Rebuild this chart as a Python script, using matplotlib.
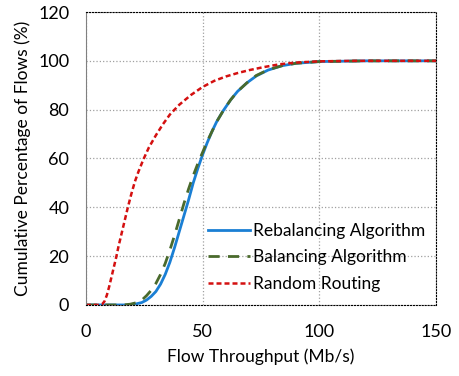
import matplotlib.pyplot as plt

rebal_x = [0, 18, 21, 24, 26, 28, 30, 32, 34, 36, 38, 40, 42, 44, 46, 48, 50, 52, 54, 56,
           58.8, 62, 65, 69, 73, 78, 84, 90, 100, 120, 150]
rebal_y = [0, 0, 0.3, 1, 2, 3.5, 5.5, 8.5, 12.5, 17.5, 23.5, 30, 36.5, 43, 50, 56, 61.5, 66.5, 71, 75,
           79.5, 84, 87.5, 91, 93.8, 96.2, 98, 99, 99.7, 100, 100]

bal_x = [0, 16, 19, 22, 24, 26, 28, 30, 32, 34, 36, 38, 40, 42, 44, 46, 48, 50, 52, 54, 56,
         58.8, 62, 65, 69, 73, 78, 84, 90, 100, 120, 150]
bal_y = [0, 0, 0.3, 1, 2, 3.8, 6, 8.8, 12.5, 17, 22.5, 28.5, 35, 41.5, 47.5, 53, 58, 62.5, 67, 71, 75,
         79.5, 84, 87.5, 91, 94, 96.3, 98, 99, 99.7, 100, 100]

rand_x = [0, 5, 7, 8, 9, 10, 11, 12, 13, 14, 15, 16, 17, 18, 19.5, 21, 22.5, 24.6, 27, 30, 33, 36,
          40, 45, 50, 55, 60, 65, 70, 76, 83, 90, 100, 115, 150]
rand_y = [0, 0, 0.3, 1.5, 4, 7.5, 11.5, 15.5, 19.5, 24, 28, 32, 36, 40, 45.5, 50.5, 54.5, 59.5, 64.5, 69.5, 74, 78,
          82, 86, 89.3, 91.8, 93.6, 95, 96.2, 97.4, 98.6, 99.3, 99.8, 100, 100]

plt.rcParams['font.family'] = ['Lato', 'DejaVu Sans']

fig = plt.figure(figsize=(4.59, 3.76), dpi=100)
ax = fig.add_axes([0.187, 0.189, 0.763, 0.779])

ax.plot(rebal_x, rebal_y, color='#1a7fd4', lw=2, label='Rebalancing Algorithm')
ax.plot(bal_x, bal_y, color='#4a6a2c', lw=2, ls=(0, (4, 3)), label='Balancing Algorithm')
ax.plot(rand_x, rand_y, color='#d41010', lw=1.8, ls=(0, (2, 1.2)), label='Random Routing')

ax.set_xlim(0, 150)
ax.set_ylim(0, 120)
ax.set_xticks([0, 50, 100, 150])
ax.set_yticks(range(0, 121, 20))
ax.grid(True, ls=':', color='#a0a0a0', lw=0.9)
ax.tick_params(axis='x', length=0, labelsize=13, pad=14)
ax.tick_params(axis='y', length=0, labelsize=13, pad=12)

for side in ['top', 'right', 'bottom']:
    ax.spines[side].set_linestyle(':')
    ax.spines[side].set_color('black')
ax.spines['left'].set_color('#808080')

ax.set_xlabel('Flow Throughput (Mb/s)', fontsize=12.5, labelpad=6)
ax.set_ylabel('Cumulative Percentage of Flows (%)', fontsize=12.5, labelpad=5)

ax.legend(loc='lower right', frameon=False, fontsize=12.5, handlelength=2.4,
          handletextpad=0.2, borderaxespad=0.2, labelspacing=0.6,
          bbox_to_anchor=(1.0, 0.01))

fig.savefig('out.png')
